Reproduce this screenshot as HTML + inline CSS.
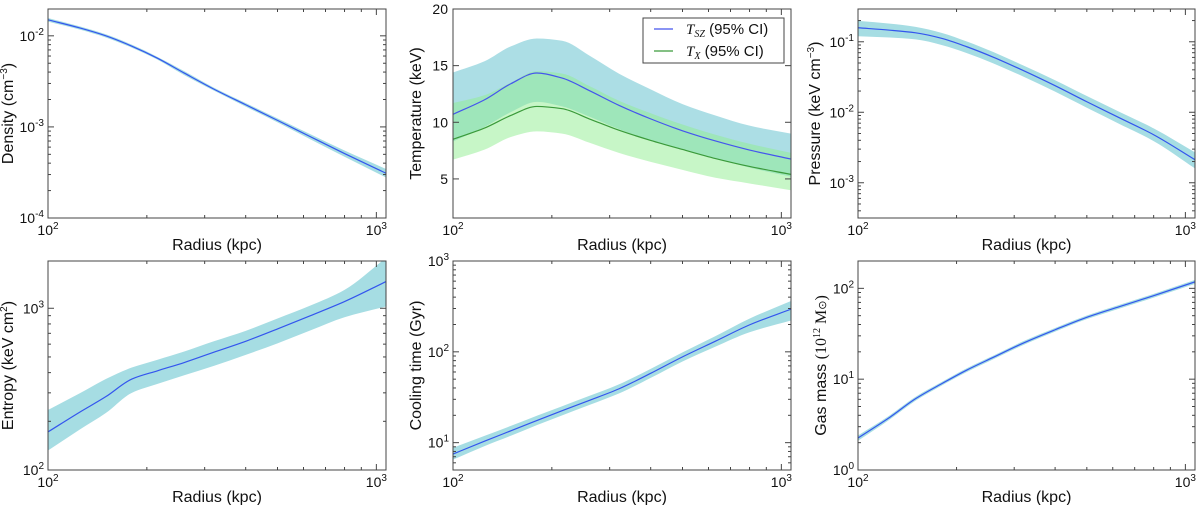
<!DOCTYPE html>
<html><head><meta charset="utf-8"><style>
body{margin:0;background:#fff;width:1200px;height:505px;overflow:hidden}
svg{display:block;font-family:"Liberation Sans","DejaVu Sans",sans-serif}
</style></head><body>
<svg id="fig" width="1200" height="505" viewBox="0 0 1200 505" xmlns="http://www.w3.org/2000/svg"></svg>
<script>
const radii = [100,125,150,180,215,260,320,400,500,630,800,1070];
const densLine = [0.015,0.0122,0.0100,0.0077,0.0057,0.0039,0.0026,0.00175,0.00118,0.00078,0.00051,0.00031];
const densUp = [0.0157,0.0127,0.0104,0.0080,0.0059,0.0041,0.0027,0.00183,0.00124,0.00083,0.00055,0.000345];
const densLo = [0.0143,0.0117,0.0096,0.0074,0.0055,0.0037,0.0025,0.00167,0.00112,0.00073,0.00047,0.000278];
const tszLine = [10.7,12.0,13.4,14.35,13.9,12.8,11.5,10.3,9.25,8.35,7.55,6.75];
const tszUp = [14.4,15.4,16.7,17.4,17.2,15.9,14.3,12.9,11.6,10.6,9.7,9.0];
const tszLo = [8.3,9.6,10.9,11.8,11.4,10.5,9.4,8.4,7.6,6.8,6.0,5.2];
const txLine = [8.5,9.5,10.6,11.4,11.2,10.3,9.3,8.4,7.6,6.8,6.1,5.4];
const txUp = [11.7,12.4,13.5,14.5,14.3,13.2,11.9,10.8,9.8,8.9,8.1,7.3];
const txLo = [6.7,7.6,8.7,9.2,9.0,8.2,7.3,6.5,5.8,5.1,4.6,4.0];
const presLine = [0.158,0.146,0.134,0.112,0.085,0.06,0.039,0.0238,0.0141,0.0083,0.0048,0.00212];
const presUp = [0.198,0.181,0.163,0.134,0.101,0.071,0.046,0.0285,0.0170,0.0101,0.0059,0.0027];
const presLo = [0.12,0.115,0.108,0.09,0.069,0.049,0.032,0.0196,0.0116,0.0068,0.0039,0.0016];
const entLine = [172,228,284,365,410,462,535,625,745,900,1100,1462];
const entUp = [235,298,365,430,480,540,625,725,865,1040,1300,2050];
const entLo = [132,178,225,300,340,385,440,515,607,730,880,1026];
const coolLine = [7.5,10.4,13.5,17.5,22.5,29.2,39.1,58,88,131,198,295];
const coolUp = [8.8,11.9,15.3,19.8,25.2,32.7,43.8,65,98.6,149,232,363];
const coolLo = [6.5,9.2,11.9,15.6,20,26,34.8,51.6,78.3,114,164,221];
const massLine = [2.25,3.8,6.1,8.9,12.6,17.5,25,35,48,63,83,118];
const massUp = [2.4,4.0,6.4,9.3,13.2,18.3,26.2,36.6,50.2,66,87,124];
const massLo = [2.1,3.6,5.8,8.5,12.0,16.7,23.8,33.4,45.8,60,79,112];
const tempTicks = [5,10,15,20];

const NS='http://www.w3.org/2000/svg';
const fig=document.getElementById('fig');
function mk(tag,attrs,parent){const e=document.createElementNS(NS,tag);for(const k in attrs)e.setAttribute(k,attrs[k]);(parent||fig).appendChild(e);return e;}
// monotone cubic path segments (points sorted by x ascending)
function monoSegs(pts){
  const n=pts.length,dx=[],m=[],t=new Array(n);
  for(let i=0;i<n-1;i++){dx.push(pts[i+1][0]-pts[i][0]);m.push((pts[i+1][1]-pts[i][1])/dx[i]);}
  t[0]=m[0];t[n-1]=m[n-2];
  for(let i=1;i<n-1;i++){if(m[i-1]*m[i]<=0)t[i]=0;else{const w1=2*dx[i]+dx[i-1],w2=dx[i]+2*dx[i-1];t[i]=(w1+w2)/(w1/m[i-1]+w2/m[i]);}}
  const segs=[];
  for(let i=0;i<n-1;i++){const h=dx[i]/3;
    segs.push([[pts[i][0]+h,pts[i][1]+t[i]*h],[pts[i+1][0]-h,pts[i+1][1]-t[i+1]*h],pts[i+1]]);}
  return segs;}
function pathFwd(pts){let d='M'+pts[0][0].toFixed(2)+','+pts[0][1].toFixed(2);monoSegs(pts).forEach(s=>{d+=' C'+s.map(p=>p[0].toFixed(2)+','+p[1].toFixed(2)).join(' ');});return d;}
function pathRev(pts){const segs=monoSegs(pts);let d=' L'+pts[pts.length-1][0].toFixed(2)+','+pts[pts.length-1][1].toFixed(2);
  for(let i=segs.length-1;i>=0;i--){const s=segs[i];d+=' C'+[s[1],s[0],pts[i]].map(p=>p[0].toFixed(2)+','+p[1].toFixed(2)).join(' ');}return d;}
const XMIN=100,XMAX=1070;
function panel(p){
  const g=mk('g',{});
  
  
  const sx=r=>p.x+(Math.log10(r)-Math.log10(XMIN))/(Math.log10(XMAX)-Math.log10(XMIN))*p.w;
  const ty=v=>p.log?Math.log10(v):v;
  const sy=v=>p.y+p.h-(ty(v)-ty(p.ymin))/(ty(p.ymax)-ty(p.ymin))*p.h;
  const cp=mk('clipPath',{id:'c'+p.name},g);mk('rect',{x:p.x,y:p.y,width:p.w,height:p.h},cp);
  const pg=mk('g',{'clip-path':'url(#c'+p.name+')'},g);
  p.series.forEach(s=>{
    const up=radii.map((r,i)=>[sx(r),sy(s.up[i])]);
    const lo=radii.map((r,i)=>[sx(r),sy(s.lo[i])]);
    const band=mk('path',{d:pathFwd(up)+pathRev(lo)+' Z',fill:s.band,'fill-opacity':s.op,stroke:'none'},pg);
    
    
  });
  p.series.forEach(s=>{
    const ln=mk('path',{d:pathFwd(radii.map((r,i)=>[sx(r),sy(s.line[i])])),fill:'none',stroke:s.color,'stroke-width':1.2},pg);
    
    
  });
  mk('rect',{x:p.x,y:p.y,width:p.w,height:p.h,fill:'none',stroke:'#444','stroke-width':1},g);
  const tk={stroke:'#444','stroke-width':1};
  for(let d=100;d<=1000;d*=10)for(let m=1;m<10;m++){const v=d*m;if(v>XMAX)break;const X=sx(v),L=m==1?6:3;
    mk('line',Object.assign({x1:X,x2:X,y1:p.y+p.h,y2:p.y+p.h-L},tk),g);mk('line',Object.assign({x1:X,x2:X,y1:p.y,y2:p.y+L},tk),g);
    if(m==1){const t=mk('text',{x:X,y:p.y+p.h+17,'font-size':14,'text-anchor':'middle',fill:'#111'},g);t.innerHTML='10<tspan dy="-6" font-size="10">'+Math.log10(v)+'</tspan>';}}
  if(p.log){const e0=Math.floor(Math.log10(p.ymin)),e1=Math.ceil(Math.log10(p.ymax));
    for(let e=e0;e<=e1;e++)for(let m=1;m<10;m++){const v=m*Math.pow(10,e);if(v<p.ymin*0.999||v>p.ymax*1.001)continue;const Y=sy(v),L=m==1?6:3;
      mk('line',Object.assign({x1:p.x,x2:p.x+L,y1:Y,y2:Y},tk),g);mk('line',Object.assign({x1:p.x+p.w,x2:p.x+p.w-L,y1:Y,y2:Y},tk),g);
      if(m==1){const t=mk('text',{x:p.x-4,y:Y+5,'font-size':14,'text-anchor':'end',fill:'#111'},g);t.innerHTML='10<tspan dy="-6" font-size="10">'+e+'</tspan>';}}}
  else{p.ticks.forEach(v=>{const Y=sy(v);mk('line',Object.assign({x1:p.x,x2:p.x+6,y1:Y,y2:Y},tk),g);mk('line',Object.assign({x1:p.x+p.w,x2:p.x+p.w-6,y1:Y,y2:Y},tk),g);
    const t=mk('text',{x:p.x-5,y:Y+5,'font-size':14,'text-anchor':'end',fill:'#111'},g);t.textContent=v;});}
  const xl=mk('text',{x:p.x+p.w/2,y:p.y+p.h+32,'font-size':16,'text-anchor':'middle',fill:'#111'},g);xl.textContent='Radius (kpc)';
  
  
  const yl=mk('text',{x:0,y:0,'font-size':16,'text-anchor':'middle',fill:'#111',transform:'translate('+(p.x-p.lab)+','+(p.y+p.h/2)+') rotate(-90)'},g);yl.innerHTML=p.ylabel;
  
  
}
const TEAL='#a6dde3';
panel({name:'density-panel',x:48,y:9,w:338,h:209,log:true,ymin:1e-4,ymax:0.0197,lab:35,ylabel:'Density (cm<tspan dy="-6" font-size="10">−3</tspan><tspan dy="6">)</tspan>',
  series:[{name:'density',line:densLine,up:densUp,lo:densLo,band:TEAL,op:1,color:'#3355ee'}]});
panel({name:'temperature-panel',x:453,y:9,w:338,h:209,log:false,ymin:1.55,ymax:20,ticks:tempTicks,lab:32,ylabel:'Temperature (keV)',
  series:[{name:'tsz',line:tszLine,up:tszUp,lo:tszLo,band:'#9ed8e0',op:0.85,color:'#4455ee'},{name:'tx',line:txLine,up:txUp,lo:txLo,band:'#90ee90',op:0.5,color:'#3a9a3a'}]});
panel({name:'pressure-panel',x:858,y:9,w:337,h:209,log:true,ymin:Math.pow(10,-3.5),ymax:Math.pow(10,-0.535),lab:38,ylabel:'Pressure (keV cm<tspan dy="-6" font-size="10">−3</tspan><tspan dy="6">)</tspan>',
  series:[{name:'pressure',line:presLine,up:presUp,lo:presLo,band:TEAL,op:1,color:'#3355ee'}]});
panel({name:'entropy-panel',x:48,y:261,w:338,h:209,log:true,ymin:100,ymax:1960,lab:35,ylabel:'Entropy (keV cm<tspan dy="-6" font-size="10">2</tspan><tspan dy="6">)</tspan>',
  series:[{name:'entropy',line:entLine,up:entUp,lo:entLo,band:TEAL,op:1,color:'#3355ee'}]});
panel({name:'cooling-panel',x:453,y:261,w:338,h:209,log:true,ymin:5,ymax:1000,lab:32,ylabel:'Cooling time (Gyr)',
  series:[{name:'cooling',line:coolLine,up:coolUp,lo:coolLo,band:TEAL,op:1,color:'#3355ee'}]});
panel({name:'gas-mass-panel',x:858,y:261,w:337,h:209,log:true,ymin:1,ymax:200,lab:32,ylabel:'Gas mass <tspan font-family="Liberation Serif">(10</tspan><tspan font-family="Liberation Serif" dy="-6" font-size="10">12</tspan><tspan font-family="Liberation Serif" dy="6"> M</tspan><tspan font-size="11">⊙</tspan><tspan font-family="Liberation Serif">)</tspan>',
  series:[{name:'gas-mass',line:massLine,up:massUp,lo:massLo,band:TEAL,op:1,color:'#3355ee'}]});
const lg=mk('g',{});


mk('rect',{x:643,y:18,width:141,height:45,fill:'#fff',stroke:'#444','stroke-width':1},lg);
mk('line',{x1:654,x2:673,y1:29,y2:29,stroke:'#4455ee','stroke-width':1.2},lg);
mk('line',{x1:654,x2:673,y1:51,y2:51,stroke:'#3a9a3a','stroke-width':1.2},lg);
const l1=mk('text',{x:686,y:34,'font-size':15,fill:'#111'},lg);l1.innerHTML='<tspan font-family="Liberation Serif" font-style="italic">T</tspan><tspan font-family="Liberation Serif" font-style="italic" font-size="10" dy="3">SZ</tspan><tspan dy="-3"> (95% CI)</tspan>';


const l2=mk('text',{x:686,y:56,'font-size':15,fill:'#111'},lg);l2.innerHTML='<tspan font-family="Liberation Serif" font-style="italic">T</tspan><tspan font-family="Liberation Serif" font-style="italic" font-size="10" dy="3">X</tspan><tspan dy="-3"> (95% CI)</tspan>';


</script>
</body></html>
